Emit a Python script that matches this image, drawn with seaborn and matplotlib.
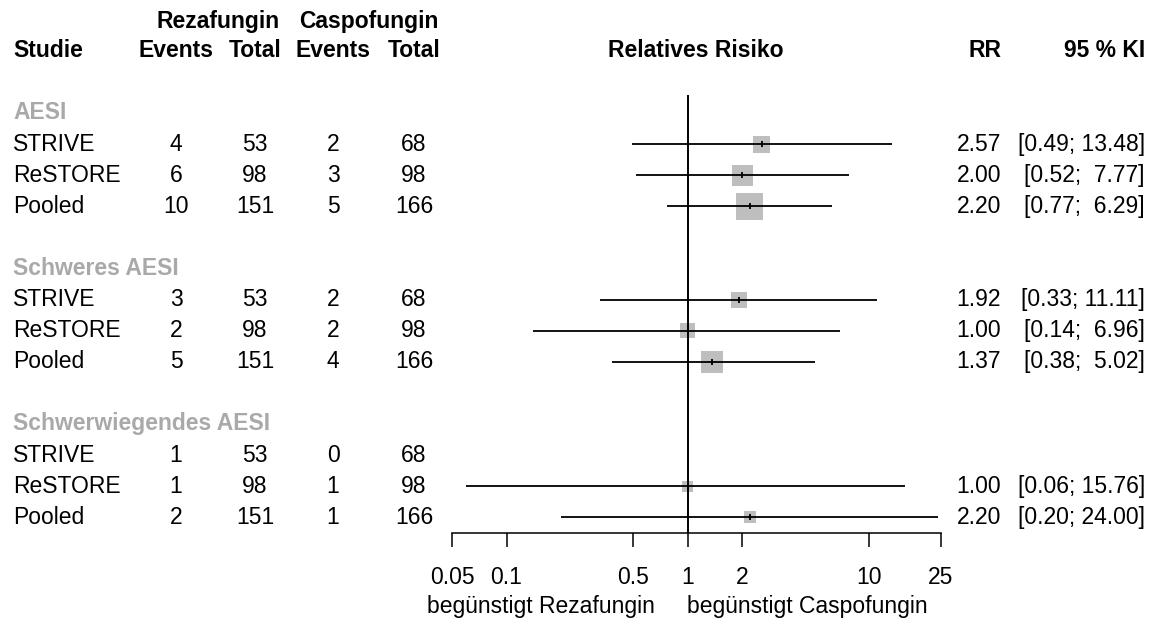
import numpy as np
import pandas as pd
import matplotlib
matplotlib.use("Agg")
import matplotlib.pyplot as plt
from matplotlib.ticker import NullLocator
import seaborn as sns

# data
groups = ["AESI", "Schweres AESI", "Schwerwiegendes AESI"]
studies = ["STRIVE", "ReSTORE", "Pooled"]
reza_events = [4, 6, 10, 3, 2, 5, 1, 1, 2]
reza_total = [53, 98, 151, 53, 98, 151, 53, 98, 151]
caspo_events = [2, 3, 5, 2, 2, 4, 0, 1, 1]
caspo_total = [68, 98, 166, 68, 98, 166, 68, 98, 166]
rr = [2.57, 2.00, 2.20, 1.92, 1.00, 1.37, np.nan, 1.00, 2.20]
ci_low = [0.49, 0.52, 0.77, 0.33, 0.14, 0.38, np.nan, 0.06, 0.20]
ci_up = [13.48, 7.77, 6.29, 11.11, 6.96, 5.02, np.nan, 15.76, 24.00]
weight = [17, 21, 27, 16, 15, 22, np.nan, 11, 12]
xticks = [0.05, 0.1, 0.5, 1, 2, 10, 25]
xtick_labels = ["0.05", "0.1", "0.5", "1", "2", "10", "25"]

rows = []
for g, grp in enumerate(groups):
    for i, st in enumerate(studies):
        k = g * 3 + i
        rows.append(dict(group=grp, study=st, row=3 + 5 * g + i,
                         e1=reza_events[k], n1=reza_total[k],
                         e2=caspo_events[k], n2=caspo_total[k],
                         rr=rr[k], lo=ci_low[k], up=ci_up[k], w=weight[k]))
df = pd.DataFrame(rows)
est = df.dropna(subset=["rr"]).copy()
est["area"] = (est["w"] * 0.72) ** 2

sns.set_theme(style="white")
plt.rcParams["font.family"] = ["Liberation Sans", "DejaVu Sans"]
fs = 16.5

W, H = 1156, 623
row0, row_h = 50.7, 31.1
y_top = (0 - row0) / row_h
y_bot = (H - row0) / row_h

fig = plt.figure(figsize=(W / 100, H / 100), dpi=100)
ax_t = fig.add_axes([0, 0, 1, 1])
ax_t.set_xlim(0, W)
ax_t.set_ylim(y_bot, y_top)
ax_t.axis("off")

ax = fig.add_axes([452 / W, 0, (941 - 452) / W, 1])
ax.patch.set_alpha(0)
ax.set_xscale("log")
ax.set_xlim(0.05, 25)
ax.set_ylim(y_bot, y_top)

# squares, confidence intervals, point ticks
sns.scatterplot(data=est, x="rr", y="row", marker="s", size="area",
                sizes={a: a for a in est["area"]}, color="#BEBEBE",
                edgecolor="none", linewidth=0, legend=False, ax=ax, zorder=2)
ax.hlines(est["row"], est["lo"], est["up"], color="black", lw=1.3, zorder=3)
ax.scatter(est["rr"], est["row"], marker="|", s=25, color="black",
           linewidths=1.3, zorder=4)
ax.vlines(1, 1.42, 15.5, color="black", lw=1.4, zorder=3)

for s in ["left", "right", "top"]:
    ax.spines[s].set_visible(False)
ax.spines["bottom"].set_position(("data", 15.5))
ax.spines["bottom"].set_color("black")
ax.spines["bottom"].set_linewidth(1.1)
ax.set_xticks(xticks)
ax.set_xticklabels(xtick_labels)
ax.xaxis.set_minor_locator(NullLocator())
ax.tick_params(axis="x", direction="out", bottom=True, length=10, width=1.1,
               color="black", pad=14, labelsize=fs, labelcolor="black")
ax.set_yticks([])
ax.set_xlabel("")
ax.set_ylabel("")

# header
bold = dict(fontsize=fs, fontweight="bold", va="center", color="black")
ax_t.text(280, -0.95, "Rezafungin", ha="right", **bold)
ax_t.text(439, -0.95, "Caspofungin", ha="right", **bold)
ax_t.text(13, 0, "Studie", ha="left", **bold)
ax_t.text(176, 0, "Events", ha="center", **bold)
ax_t.text(255, 0, "Total", ha="center", **bold)
ax_t.text(333, 0, "Events", ha="center", **bold)
ax_t.text(414, 0, "Total", ha="center", **bold)
ax_t.text(696, 0, "Relatives Risiko", ha="center", **bold)
ax_t.text(1001, 0, "RR", ha="right", **bold)
ax_t.text(1145, 0, "95 % KI", ha="right", **bold)

norm = dict(fontsize=fs, va="center", color="black")
for g, grp in enumerate(groups):
    ax_t.text(13, 2 + 5 * g, grp, ha="left", fontsize=fs, fontweight="bold",
              va="center", color="#A9A9A9")

for _, r in df.iterrows():
    y = r["row"]
    ax_t.text(13, y, r["study"], ha="left", **norm)
    ax_t.text(176, y, f"{r['e1']}", ha="center", **norm)
    ax_t.text(255, y, f"{r['n1']}", ha="center", **norm)
    ax_t.text(333, y, f"{r['e2']}", ha="center", **norm)
    ax_t.text(414, y, f"{r['n2']}", ha="center", **norm)
    if not np.isnan(r["rr"]):
        up = f"{r['up']:.2f}"
        pad = " " if len(up) == 4 else ""
        ax_t.text(1001, y, f"{r['rr']:.2f}", ha="right", **norm)
        ax_t.text(1145, y, f"[{r['lo']:.2f}; {pad}{up}]", ha="right", **norm)

lab_y = (606 - row0) / row_h
ax_t.text(655, lab_y, "begünstigt Rezafungin", ha="right", **norm)
ax_t.text(687, lab_y, "begünstigt Caspofungin", ha="left", **norm)

fig.savefig("out.png", dpi=100)
